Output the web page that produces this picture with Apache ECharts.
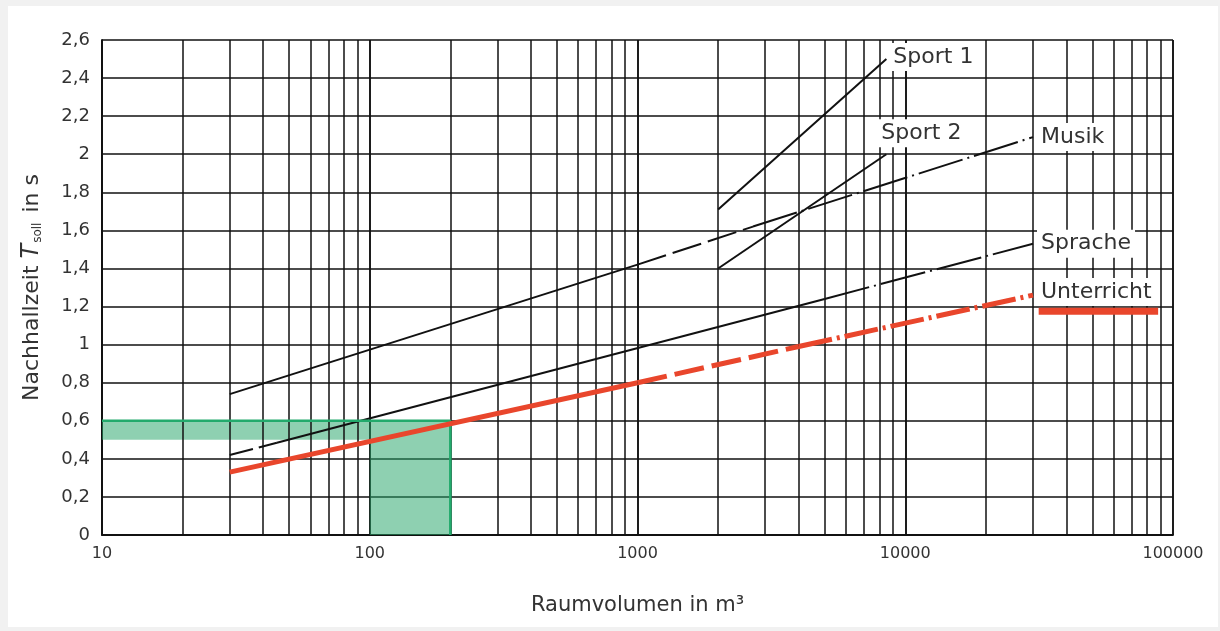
<!DOCTYPE html>
<html><head><meta charset="utf-8">
<script src="https://cdn.jsdelivr.net/npm/echarts@6/dist/echarts.min.js"></script>
<style>
html,body{margin:0;padding:0;background:#f1f1f1;width:1220px;height:631px;overflow:hidden}
#c{position:absolute;left:8px;top:6px;width:1210px;height:621px;background:#fff}
</style>
</head><body><div id="c"></div>
<script>
// ---- data ----
const yTicks = [0,0.2,0.4,0.6,0.8,1,1.2,1.4,1.6,1.8,2,2.2,2.4,2.6];
const xTickLabels = ['10','100','1000','10000','100000'];
const minorGrid = [20,30,40,50,60,70,80,90,200,300,400,500,600,700,800,900,
  2000,3000,4000,5000,6000,7000,8000,9000,20000,30000,40000,50000,60000,70000,80000,90000];
const sport1 = [[2000,1.71],[8500,2.50]];
const sport2 = [[2000,1.40],[8500,2.00]];
const musikSolid = [[30,0.74],[1000,1.42]];
const musikDashed = [[1000,1.42],[2700,1.62]];
const musikDashDot = [[2700,1.62],[30000,2.09]];
const spracheDashed = [[30,0.42],[45,0.485]];
const spracheSolid = [[45,0.485],[5000,1.24]];
const spracheDashDot = [[5000,1.24],[30000,1.53]];
const unterrichtSolid = [[30,0.33],[1000,0.80]];
const unterrichtDashed = [[1000,0.80],[4000,0.99]];
const unterrichtDashDot = [[4000,0.99],[30000,1.26]];
const unterrichtKey = [[31500,1.175],[88000,1.175]];
const greenBand = [[10,0.5],[100,0.6]];
const greenRect = [[100,0],[200,0.6]];
const greenOutline = [[10,0.6],[200,0.6],[200,0]];
const names = {sport1:'Sport 1', sport2:'Sport 2', musik:'Musik', sprache:'Sprache', unterricht:'Unterricht'};

const FONT = '"DejaVu Sans",sans-serif';
const BLACK = '#111';
const RED = '#e9462c';
const GREEN = '#22aa6c';

function seg(data, color, width, type, z, labelText, labelOpts){
  const s = {type:'line', data:data, symbol:'none', silent:true, z:z||5,
    lineStyle:{color:color, width:width, type:type, cap:'butt'},
    emphasis:{disabled:true}};
  if (labelText) {
    s.endLabel = Object.assign({show:true, formatter:labelText, fontFamily:FONT, fontSize:22,
      color:'#333', backgroundColor:'#fff', padding:[3,4,3,4], distance:4}, labelOpts||{});
  }
  return s;
}
const DASHDOT_B = [46,5,2,5];
const DASH_B = [30,7];
const DASHDOT_R = [34,5,3,5];
const DASH_R = [30,8];

const chart = echarts.init(document.getElementById('c'));
chart.setOption({
  animation:false,
  backgroundColor:'#fff',
  grid:{left:94, right:45, top:34, bottom:92, containLabel:false},
  xAxis:{type:'log', logBase:10, min:10, max:100000,
    name:'Raumvolumen in m³', nameLocation:'middle', nameGap:60,
    nameTextStyle:{fontFamily:FONT, fontSize:21, color:'#333'},
    axisLine:{show:true, lineStyle:{color:BLACK, width:1.8}},
    axisTick:{show:false},
    axisLabel:{fontFamily:FONT, fontSize:16, color:'#333', margin:11,
      formatter:(v)=> xTickLabels[Math.round(Math.log10(v))-1]},
    splitLine:{show:true, lineStyle:{color:BLACK, width:1.9}}
  },
  yAxis:{type:'value', min:0, max:2.6, interval:0.2,
    name:'{a|Nachhallzeit }{t|T}{s|soll}{a| in s}', nameLocation:'middle', nameGap:58,
    nameTextStyle:{fontFamily:FONT, color:'#333',
      rich:{a:{fontFamily:FONT,fontSize:22,color:'#333'},
            t:{fontFamily:FONT,fontSize:24,fontStyle:'italic',color:'#333'},
            s:{fontFamily:FONT,fontSize:12,color:'#333',verticalAlign:'bottom',padding:[11,3,0,1]}}},
    axisLine:{show:true, lineStyle:{color:BLACK, width:1.8}},
    axisTick:{show:false},
    axisLabel:{fontFamily:FONT, fontSize:18, color:'#333', margin:12,
      formatter:(v)=> yTicks.includes(Math.round(v*10)/10) ? String(Math.round(v*10)/10).replace('.',',') : ''},
    splitLine:{show:true, lineStyle:{color:BLACK, width:1.7}}
  },
  series:[
    // minor vertical grid lines
    {type:'line', data:[], silent:true, z:1,
      markLine:{silent:true, symbol:['none','none'], label:{show:false}, animation:false,
        lineStyle:{color:BLACK, width:1.5, type:'solid'},
        emphasis:{disabled:true},
        data:minorGrid.map(v=>({xAxis:v}))}},
    // Sport 1 / Sport 2
    seg(sport1, BLACK, 2, 'solid', 5, names.sport1, {distance:3, offset:[0,-2]}),
    seg(sport2, BLACK, 2, 'solid', 5, names.sport2, {distance:3, offset:[-12,-21]}),
    // Musik
    seg(musikSolid, BLACK, 2, 'solid'),
    seg(musikDashed, BLACK, 2, DASH_B),
    seg(musikDashDot, BLACK, 2, DASHDOT_B, 5, names.musik, {distance:4}),
    // Sprache
    seg(spracheDashed, BLACK, 2, [24,6]),
    seg(spracheSolid, BLACK, 2, 'solid'),
    seg(spracheDashDot, BLACK, 2, DASHDOT_B, 5, names.sprache, {distance:4}),
    // green highlight
    {type:'line', data:greenOutline, symbol:'none', silent:true, z:5.5,
      lineStyle:{color:GREEN, width:2.6},
      markArea:{silent:true, itemStyle:{color:'rgba(38,165,105,0.52)'},
        data:[[{coord:greenBand[0]},{coord:greenBand[1]}],[{coord:greenRect[0]},{coord:greenRect[1]}]]}},
    // Unterricht
    seg(unterrichtSolid, RED, 5, 'solid', 6),
    seg(unterrichtDashed, RED, 5, DASH_R, 6),
    seg(unterrichtDashDot, RED, 5, DASHDOT_R, 6, names.unterricht, {distance:4, offset:[0,-3]}),
    // Unterricht key bar
    seg(unterrichtKey, RED, 7, 'solid', 7)
  ]
});
</script>
</body></html>
